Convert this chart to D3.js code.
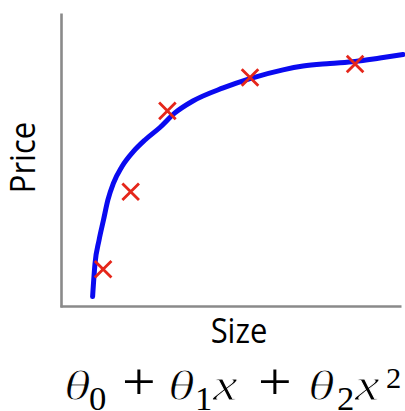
<!DOCTYPE html>
<html>
<head>
<meta charset="utf-8">
<script src="https://cdn.jsdelivr.net/npm/d3@7"></script>
<style>
  html, body { margin: 0; padding: 0; background: #fff; }
  svg { display: block; }
</style>
</head>
<body>
<script>
// Observed houses: size vs. price (arbitrary units, 0–100)
const sizes  = [12.1, 20.2, 31.0, 55.3, 86.2];
const prices = [12.3, 38.9, 66.7, 78.2, 82.8];

// Fitted hypothesis curve, sampled along the size axis
const fitSizes  = [9.0, 9.7, 10.9, 12.2, 13.5, 15.1, 17.6, 20.9, 24.4, 28.8, 33.2, 38.5, 47.4, 55.3, 65.0, 70.9, 78.8, 86.2, 93.5, 100.3];
const fitPrices = [2.9, 14.1, 22.3, 29.2, 36.1, 41.8, 47.5, 52.6, 56.7, 61.0, 66.0, 70.1, 74.6, 77.8, 80.8, 82.1, 83.0, 83.7, 84.9, 86.1];

const xLabel = "Size";
const yLabel = "Price";

const W = 405, H = 411;
const svg = d3.select("body").append("svg").attr("width", W).attr("height", H);

const x = d3.scaleLinear().domain([0, 100]).range([62, 402]);
const y = d3.scaleLinear().domain([0, 100]).range([305, 14]);

// Bare axes: just the domain lines, no ticks
const axisColor = "#8a8a8a";
const gx = svg.append("g").attr("transform", "translate(0,306)")
  .call(d3.axisBottom(x.copy().range([60, 401])).ticks(0).tickSizeOuter(0));
const gy = svg.append("g").attr("transform", "translate(61,0)")
  .call(d3.axisLeft(y.copy().range([307, 13])).ticks(0).tickSizeOuter(0));
[gx, gy].forEach(g => g.select(".domain").attr("stroke", axisColor).attr("stroke-width", 2.6));

// Fitted curve
const fit = fitSizes.map((s, i) => [s, fitPrices[i]]);
svg.append("path")
  .datum(fit)
  .attr("fill", "none")
  .attr("stroke", "#0a0af0")
  .attr("stroke-width", 5)
  .attr("stroke-linecap", "round")
  .attr("stroke-linejoin", "round")
  .attr("d", d3.line().x(d => x(d[0])).y(d => y(d[1])).curve(d3.curveMonotoneX));

// Data points as crosses
const arm = 8.3;
const pts = svg.append("g").selectAll("g")
  .data(sizes.map((s, i) => [s, prices[i]]))
  .join("g")
  .attr("transform", d => `translate(${x(d[0])},${y(d[1])})`);
pts.append("path")
  .attr("d", `M${-arm},${-arm}L${arm},${arm}M${-arm},${arm}L${arm},${-arm}`)
  .attr("stroke", "#e5261a")
  .attr("stroke-width", 2.8)
  .attr("fill", "none");

// Axis labels
const labelFont = "'Open Sans', 'Noto Sans', sans-serif";
svg.append("text")
  .attr("transform", "translate(239,343) scale(1,1.12)")
  .attr("text-anchor", "middle")
  .attr("font-family", labelFont)
  .attr("font-size", 31)
  .attr("fill", "#000")
  .text(xLabel);

svg.append("text")
  .attr("transform", "translate(35,157.5) rotate(-90) scale(1,1.12)")
  .attr("text-anchor", "middle")
  .attr("font-family", labelFont)
  .attr("font-size", 31)
  .attr("fill", "#000")
  .text(yLabel);

// Hypothesis formula: θ0 + θ1 x + θ2 x^2, set glyph by glyph
const mathFont = "'Liberation Serif', 'Times New Roman', serif";
const formula = [
  { t: "θ", x: 64,  y: 400, size: 42, sx: 1.3, italic: true, thin: true },
  { t: "0", x: 89,  y: 410, size: 33, sx: 1.05 },
  { t: "+", x: 122, y: 399, size: 52, sx: 1.15 },
  { t: "θ", x: 168, y: 400, size: 42, sx: 1.3, italic: true, thin: true },
  { t: "1", x: 195, y: 410, size: 33, sx: 1.05 },
  { t: "x", x: 213, y: 400, size: 46, sx: 1.2, italic: true, thin: true },
  { t: "+", x: 258, y: 399, size: 52, sx: 1.15 },
  { t: "θ", x: 308, y: 400, size: 42, sx: 1.3, italic: true, thin: true },
  { t: "2", x: 337, y: 410, size: 33, sx: 1.05 },
  { t: "x", x: 355, y: 400, size: 46, sx: 1.2, italic: true, thin: true },
  { t: "2", x: 386, y: 388, size: 29, sx: 1.05 }
];
svg.append("g").selectAll("text")
  .data(formula)
  .join("text")
  .attr("transform", d => `translate(${d.x},${d.y}) scale(${d.sx},1)`)
  .attr("font-family", mathFont)
  .attr("font-size", d => d.size)
  .attr("font-style", d => d.italic ? "italic" : "normal")
  .attr("fill", "#000")
  .attr("stroke", d => d.thin ? "#fff" : "none")
  .attr("stroke-width", d => d.thin ? 0.9 : 0)
  .text(d => d.t);
</script>
</body>
</html>
